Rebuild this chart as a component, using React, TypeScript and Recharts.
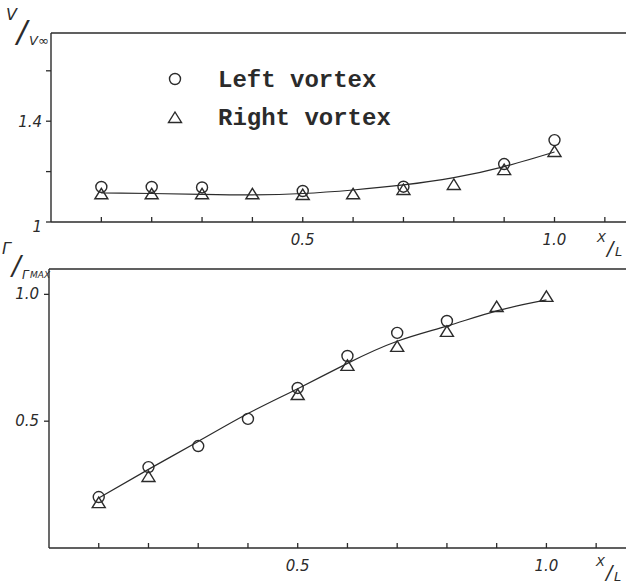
import React from "react";
import { ComposedChart, Line, Scatter, XAxis, YAxis, ReferenceLine, Legend } from "recharts";

const ink = "#2b2b2b";

// x/L stations
const stations = [0.1, 0.2, 0.3, 0.4, 0.5, 0.6, 0.7, 0.8, 0.9, 1.0];
const xTicks = [0.1, 0.2, 0.3, 0.4, 0.5, 0.6, 0.7, 0.8, 0.9, 1.0, 1.1];

// upper panel: V / V∞
const velTicks = [1, 1.2, 1.4, 1.6];
const velFit = [1.115, 1.113, 1.11, 1.108, 1.113, 1.127, 1.147, 1.176, 1.22, 1.278];
const velLeftX = [0.1, 0.2, 0.3, 0.5, 0.7, 0.9, 1.0];
const velLeft = [1.139, 1.139, 1.137, 1.123, 1.14, 1.23, 1.325];
const velRight = [1.11, 1.11, 1.11, 1.11, 1.107, 1.11, 1.127, 1.147, 1.206, 1.278];

// lower panel: Γ / Γmax
const circTicks = [0.5, 1.0];
const circFit = [0.197, 0.31, 0.42, 0.53, 0.628, 0.728, 0.815, 0.875, 0.935, 0.978];
const circLeftX = [0.1, 0.2, 0.3, 0.4, 0.5, 0.6, 0.7, 0.8];
const circLeft = [0.201, 0.319, 0.402, 0.509, 0.631, 0.757, 0.848, 0.895];
const circRightX = [0.1, 0.2, 0.5, 0.6, 0.7, 0.8, 0.9, 1.0];
const circRight = [0.177, 0.28, 0.603, 0.718, 0.793, 0.852, 0.95, 0.99];

const legendNames = ["Left vortex", "Right vortex"];

const pts = (xs: number[], ys: number[]) => xs.map((x, i) => ({ x, y: ys[i] }));

const labelFont: React.CSSProperties = {
  fontFamily: "DejaVu Sans",
  fontStyle: "italic",
  fontSize: 15,
  fill: ink,
};

function CircleMark(p: any) {
  return <circle cx={p.cx} cy={p.cy} r={5.5} fill="none" stroke={ink} strokeWidth={1.4} />;
}

function TriangleMark(p: any) {
  const { cx, cy } = p;
  return (
    <path
      d={`M${cx},${cy - 6} L${cx + 6.5},${cy + 4.5} L${cx - 6.5},${cy + 4.5} Z`}
      fill="none"
      stroke={ink}
      strokeWidth={1.4}
    />
  );
}

function XTick(props: any) {
  const { x, y, payload } = props;
  const v = Math.round(payload.value * 10) / 10;
  const label = v === 0.5 ? "0.5" : v === 1 ? "1.0" : "";
  return (
    <g>
      <line x1={x} x2={x} y1={y} y2={y - 5} stroke={ink} strokeWidth={1.3} />
      {label && (
        <text x={x} y={y + 23} textAnchor="middle" style={labelFont}>
          {label}
        </text>
      )}
    </g>
  );
}

function VelTick(props: any) {
  const { x, y, payload } = props;
  const v = Math.round(payload.value * 10) / 10;
  const label = v === 1 ? "1" : v === 1.4 ? "1.4" : "";
  return (
    <g>
      <line x1={x - 5} x2={x} y1={y} y2={y} stroke={ink} strokeWidth={1.3} />
      {label && (
        <text x={x - 9} y={y + (v === 1 ? 10 : 6)} textAnchor="end" style={labelFont}>
          {label}
        </text>
      )}
    </g>
  );
}

function CircTick(props: any) {
  const { x, y, payload } = props;
  return (
    <g>
      <line x1={x - 5} x2={x} y1={y} y2={y} stroke={ink} strokeWidth={1.3} />
      <text x={x - 10} y={y + 5} textAnchor="end" style={labelFont}>
        {payload.value.toFixed(1)}
      </text>
    </g>
  );
}

function LegendBox() {
  const txt: React.CSSProperties = {
    fontFamily: "Liberation Mono",
    fontWeight: "bold",
    fontSize: 24,
    fill: ink,
  };
  return (
    <svg width={250} height={75}>
      <CircleMark cx={15} cy={19} />
      <text x={58} y={27} style={txt}>{legendNames[0]}</text>
      <TriangleMark cx={15} cy={58} />
      <text x={58} y={65} style={txt}>{legendNames[1]}</text>
    </svg>
  );
}

export default function App() {
  const title: React.CSSProperties = { fontFamily: "DejaVu Sans", fontStyle: "italic", fill: ink };
  return (
    <div style={{ position: "absolute", left: 0, top: 0, width: 626, height: 586, background: "#fff" }}>
      <div style={{ position: "absolute", left: 0, top: 0 }}>
        <ComposedChart width={626} height={260} margin={{ top: 33, right: 0, bottom: 8, left: 7 }}>
          <XAxis
            type="number"
            dataKey="x"
            domain={[0, 1.142]}
            allowDataOverflow
            ticks={xTicks}
            interval={0}
            tick={<XTick />}
            tickLine={false}
            tickSize={0}
            tickMargin={0}
            height={30}
            axisLine={{ stroke: ink, strokeWidth: 1.6 }}
          />
          <YAxis
            type="number"
            dataKey="y"
            domain={[1, 1.75]}
            allowDataOverflow
            ticks={velTicks}
            interval={0}
            tick={<VelTick />}
            tickLine={false}
            tickSize={0}
            tickMargin={0}
            width={44}
            axisLine={{ stroke: ink, strokeWidth: 1.4 }}
          />
          <ReferenceLine y={1.75} stroke={ink} strokeWidth={1.6} />
          <Line
            data={pts(stations, velFit)}
            dataKey="y"
            type="natural"
            stroke={ink}
            strokeWidth={1.2}
            dot={false}
            isAnimationActive={false}
          />
          <Scatter name={legendNames[1]} data={pts(stations, velRight)} shape={<TriangleMark />} isAnimationActive={false} />
          <Scatter name={legendNames[0]} data={pts(velLeftX, velLeft)} shape={<CircleMark />} isAnimationActive={false} />
          <Legend
            layout="vertical"
            align="center"
            verticalAlign="middle"
            content={<LegendBox />}
            wrapperStyle={{ position: "absolute", left: 160, top: 60, width: 250, height: 75 }}
          />
        </ComposedChart>
      </div>
      <div style={{ position: "absolute", left: 0, top: 250 }}>
        <ComposedChart width={626} height={336} margin={{ top: 19, right: 0, bottom: 8, left: 5 }}>
          <XAxis
            type="number"
            dataKey="x"
            domain={[0, 1.16]}
            allowDataOverflow
            ticks={xTicks}
            interval={0}
            tick={<XTick />}
            tickLine={false}
            tickSize={0}
            tickMargin={0}
            height={30}
            axisLine={{ stroke: ink, strokeWidth: 1.6 }}
          />
          <YAxis
            type="number"
            dataKey="y"
            domain={[0, 1.1]}
            allowDataOverflow
            ticks={circTicks}
            interval={0}
            tick={<CircTick />}
            tickLine={false}
            tickSize={0}
            tickMargin={0}
            width={44}
            axisLine={{ stroke: ink, strokeWidth: 1.4 }}
          />
          <ReferenceLine y={1.1} stroke={ink} strokeWidth={1.6} />
          <Line
            data={pts(stations, circFit)}
            dataKey="y"
            type="natural"
            stroke={ink}
            strokeWidth={1.2}
            dot={false}
            isAnimationActive={false}
          />
          <Scatter name={legendNames[1]} data={pts(circRightX, circRight)} shape={<TriangleMark />} isAnimationActive={false} />
          <Scatter name={legendNames[0]} data={pts(circLeftX, circLeft)} shape={<CircleMark />} isAnimationActive={false} />
        </ComposedChart>
      </div>
      <svg width={626} height={586} style={{ position: "absolute", left: 0, top: 0, pointerEvents: "none" }}>
        {/* V / V∞ */}
        <text style={title}>
          <tspan x={6} y={20} fontSize={16}>V</tspan>
          <tspan x={17} y={42} fontSize={30}>/</tspan>
          <tspan x={29} y={45} fontSize={13}>V∞</tspan>
        </text>
        {/* Γ / Γmax */}
        <text style={title}>
          <tspan x={2} y={254} fontSize={16}>Γ</tspan>
          <tspan x={12} y={275} fontSize={26}>/</tspan>
          <tspan x={22} y={279} fontSize={12}>Γ</tspan>
          <tspan x={30} y={278} fontSize={9}>MAX</tspan>
        </text>
        {/* x / L, upper */}
        <text style={title}>
          <tspan x={597} y={242} fontSize={13}>X</tspan>
          <tspan x={607} y={255} fontSize={19}>/</tspan>
          <tspan x={615} y={256} fontSize={13}>L</tspan>
        </text>
        {/* x / L, lower */}
        <text style={title}>
          <tspan x={596} y={566} fontSize={13}>X</tspan>
          <tspan x={606} y={579} fontSize={19}>/</tspan>
          <tspan x={614} y={581} fontSize={13}>L</tspan>
        </text>
      </svg>
    </div>
  );
}
